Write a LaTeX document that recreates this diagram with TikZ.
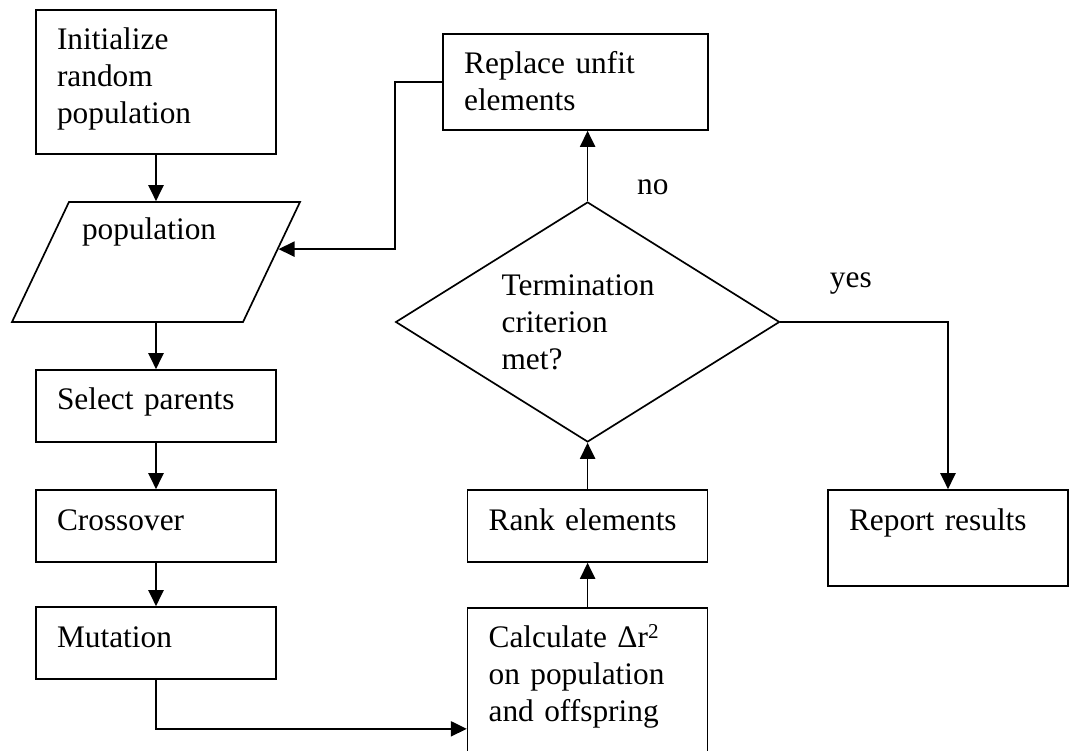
\documentclass[tikz,border=0pt]{standalone}
\usepackage{fontspec}
\setmainfont{Liberation Serif}
\usetikzlibrary{arrows.meta,shapes.geometric}

\begin{document}
\begin{tikzpicture}[
      font=\fontsize{22.3}{26.3}\selectfont,
      >={Triangle[length=4mm, width=3.8mm]},
      line width=1.2pt,
      procbox/.style={draw, rectangle, align=left, inner xsep=0.525cm, inner ysep=0pt,
                  text width=4.95cm, text height=1cm},
      iobox/.style={draw, trapezium, trapezium left angle=64.6, trapezium right angle=115.4,
                  trapezium stretches body, minimum width=7.2cm, inner sep=0pt,
                  align=left, text width=3.7cm, text height=0.95cm, text depth=2.05cm},
      testbox/.style={draw, diamond, aspect=1.6, inner sep=0pt, minimum width=9.6cm,
                  minimum height=6cm, align=left, text width=4.3cm},
      lbl/.style={anchor=base west, xshift=1.1cm},
    ]

    \clip (0,0) rectangle (26.75,18.75);

    % ---------- left column ----------
    \node[procbox, text depth=2.6cm] (init) at (3.9,16.7) {Initialize\\random\\population};
    \node[iobox]                     (pop)  at (3.9,12.2) {population};
    \node[procbox, text depth=0.8cm] (sel)  at (3.9,8.6)  {Select parents};
    \node[procbox, text depth=0.8cm] (cross) at (3.9,5.6) {Crossover};
    \node[procbox, text depth=0.8cm] (mut)  at (3.9,2.675) {Mutation};

    % ---------- evaluation column ----------
    \node[procbox, text depth=2.825cm, anchor=north] (calc) at (14.69,3.575)
      {Calculate Δr\raisebox{6.5pt}{\fontsize{15}{15}\selectfont 2}\\on population\\and offspring};
    \node[procbox, text depth=0.8cm] (rank) at (14.69,5.6) {Rank elements};
    \node[testbox] (dec) at (14.69,10.7) {Termination\\criterion\\met?};
    \node[procbox, text depth=1.4cm, text width=5.575cm] (rep) at (14.39,16.7)
      {Replace unfit\\elements};

    % ---------- result ----------
    \node[procbox, text depth=1.4cm] (rpt) at (23.7,5.3) {Report results};

    % ---------- arrows ----------
    \draw[->] (init) -- (init |- pop.north);
    \draw[->] (sel |- pop.south) -- (sel);
    \draw[->] (sel) -- (cross);
    \draw[->] (cross) -- (mut);
    \draw[->] (mut.south) |- ([yshift=-1.1125cm]calc.west);
    \draw[->] (calc) -- (rank);
    \draw[->] (rank) -- (dec);
    \draw[->] (dec.north) -- (dec.north |- rep.south)
      node[lbl, pos=0, yshift=0.175cm] {no};
    \draw[->] (dec.east) -| (rpt.north)
      node[lbl, pos=0, yshift=0.85cm] {yes};
    \draw[->] (rep.west) -| (dec.west |- pop.6) -- (pop.6);

  \end{tikzpicture}
\end{document}
